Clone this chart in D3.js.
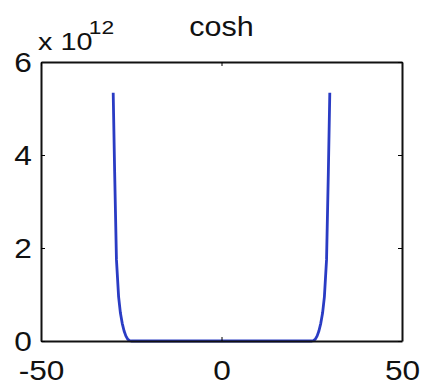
<!DOCTYPE html>
<html>
<head>
<meta charset="utf-8">
<script src="https://cdn.jsdelivr.net/npm/d3@7"></script>
<style>
  body { margin: 0; background: #fff; }
  text { font-family: "Liberation Sans", Arial, sans-serif; fill: #111; }
</style>
</head>
<body>
<div id="chart"></div>
<script>
// chart size and plot box
const width = 421;
const height = 385;
const margin = {left: 41, right: 19, top: 62, bottom: 44};
const stretch = 1.13; // the original lettering is a bit wide

// values (y in units of 10^12)
const xVals = [-30, -29.6, -29.1, -28.5, -28, -27.5, -27, -26.5, -26, -25.5, -25, 0,
               25, 25.5, 26, 26.5, 27, 27.5, 28, 28.5, 29.1, 29.6, 30];
const yVals = [5.34, 3.64, 1.75, 0.95, 0.60, 0.38, 0.22, 0.11, 0.04, 0.01, 0, 0,
               0, 0.01, 0.04, 0.11, 0.22, 0.38, 0.60, 0.95, 1.75, 3.64, 5.34];
const xTicks = [-50, 0, 50];
const yTicks = [0, 2, 4, 6];
const title = "cosh";

const data = xVals.map((x, i) => ({x: x, y: yVals[i]}));

const svg = d3.select("#chart")
  .append("svg")
  .attr("width", width)
  .attr("height", height);

const xScale = d3.scaleLinear()
  .domain([-50, 50])
  .range([margin.left, width - margin.right]);

const yScale = d3.scaleLinear()
  .domain([0, 6])
  .range([height - margin.bottom, margin.top]);

// plain labels with a hyphen minus, like the original
const plain = d => String(d);

// curve
const line = d3.line()
  .x(d => xScale(d.x))
  .y(d => yScale(d.y));

svg.append("path")
  .datum(data)
  .attr("d", line)
  .attr("fill", "none")
  .attr("stroke", "#2a3cc4")
  .attr("stroke-width", 2.8)
  .attr("stroke-linejoin", "round");

// bottom axis, ticks pointing in
svg.append("g")
  .attr("transform", `translate(0,${height - margin.bottom})`)
  .call(d3.axisBottom(xScale).tickValues(xTicks).tickFormat(plain).tickSizeInner(-4).tickSizeOuter(0).tickPadding(19))
  .call(g => g.select(".domain").attr("stroke", "#111").attr("stroke-width", 2))
  .call(g => g.selectAll("text").attr("font-size", "28px").attr("transform", `scale(${stretch},1)`));

// left axis
svg.append("g")
  .attr("transform", `translate(${margin.left},0)`)
  .call(d3.axisLeft(yScale).tickValues(yTicks).tickFormat(plain).tickSizeInner(-4).tickSizeOuter(0).tickPadding(8))
  .call(g => g.select(".domain").attr("stroke", "#111").attr("stroke-width", 2))
  .call(g => g.selectAll("text").attr("font-size", "28px").attr("dy", "0.35em")
    .attr("transform", `scale(${stretch},1)`));

// top and right sides of the box
svg.append("g")
  .attr("transform", `translate(0,${margin.top})`)
  .call(d3.axisTop(xScale).tickValues(xTicks).tickSizeInner(-4).tickSizeOuter(0).tickFormat(""))
  .call(g => g.select(".domain").attr("stroke", "#111").attr("stroke-width", 2));

svg.append("g")
  .attr("transform", `translate(${width - margin.right},0)`)
  .call(d3.axisRight(yScale).tickValues(yTicks).tickSizeInner(-4).tickSizeOuter(0).tickFormat(""))
  .call(g => g.select(".domain").attr("stroke", "#111").attr("stroke-width", 2));

// exponent label
const expo = svg.append("text")
  .attr("transform", `translate(38,50) scale(1.2,1)`)
  .attr("font-size", "24px");
expo.append("tspan").text("x 10");
expo.append("tspan").attr("font-size", "19px").attr("dx", "-3").attr("dy", "-16").text("12");

// title
svg.append("text")
  .attr("transform", `translate(${xScale(0)},36) scale(${stretch},1)`)
  .attr("text-anchor", "middle")
  .attr("font-size", "27px")
  .text(title);
</script>
</body>
</html>
